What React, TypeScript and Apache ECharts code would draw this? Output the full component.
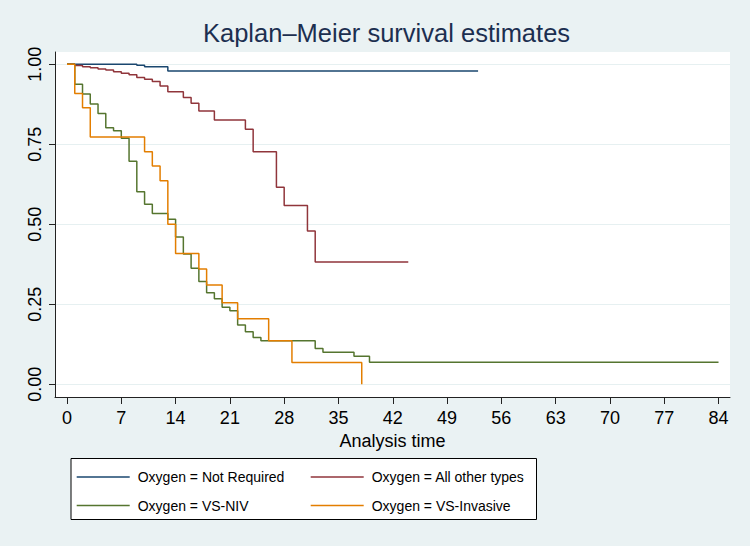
import React, { useEffect, useRef } from "react";
import * as echarts from "echarts";

// Kaplan–Meier survival estimates by oxygen requirement (time in days)
const notRequiredTime = [0, 9, 10, 13, 53];
const notRequiredSurv = [1, 0.997, 0.992, 0.979, 0.979];

const otherTypesTime = [0, 1, 2, 3, 4, 5, 6, 7, 8, 9, 10, 11, 12, 13, 15, 16, 17, 19, 23, 24, 27, 28, 31, 32, 44];
const otherTypesSurv = [1, 0.996, 0.992, 0.989, 0.985, 0.982, 0.977, 0.972, 0.967, 0.959, 0.953, 0.946, 0.932, 0.914, 0.896, 0.878, 0.854, 0.826, 0.797, 0.727, 0.616, 0.559, 0.479, 0.382, 0.382];

const nivTime = [0, 1, 2, 3, 4, 5, 6, 7, 8, 9, 10, 11, 13, 14, 15, 16, 17, 18, 19, 20, 21, 22, 23, 24, 25, 32, 33, 37, 39, 84];
const nivSurv = [1, 0.938, 0.907, 0.876, 0.846, 0.802, 0.792, 0.769, 0.697, 0.602, 0.563, 0.534, 0.516, 0.46, 0.407, 0.363, 0.321, 0.286, 0.267, 0.241, 0.23, 0.185, 0.164, 0.146, 0.136, 0.112, 0.1, 0.088, 0.069, 0.069];

const invasiveTime = [0, 1, 2, 3, 10, 11, 12, 13, 14, 17, 18, 20, 22, 26, 29, 38];
const invasiveSurv = [1, 0.909, 0.864, 0.773, 0.727, 0.682, 0.636, 0.5, 0.409, 0.36, 0.31, 0.255, 0.205, 0.136, 0.068, 0];

const groupNames = [
  "Oxygen = Not Required",
  "Oxygen = All other types",
  "Oxygen = VS-NIV",
  "Oxygen = VS-Invasive",
];
const groupColors = ["#1a476f", "#90353b", "#55752f", "#e37e00"];

const xTicks = [0, 7, 14, 21, 28, 35, 42, 49, 56, 63, 70, 77, 84];
const yTicks = [0, 0.25, 0.5, 0.75, 1];

const FONT = "'Liberation Sans', Arial, Helvetica, sans-serif";

const pairs = (t: number[], s: number[]) => t.map((v, i) => [v, s[i]]);

export default function App() {
  const ref = useRef<HTMLDivElement>(null);

  useEffect(() => {
    if (!ref.current) return;
    const chart = echarts.init(ref.current, undefined, { renderer: "svg" });

    const curves = [
      pairs(notRequiredTime, notRequiredSurv),
      pairs(otherTypesTime, otherTypesSurv),
      pairs(nivTime, nivSurv),
      pairs(invasiveTime, invasiveSurv),
    ];

    const legendPos = [
      { left: 76.7, top: 470 },
      { left: 310.7, top: 470 },
      { left: 76.7, top: 498.5 },
      { left: 310.7, top: 498.5 },
    ];

    chart.setOption({
      animation: false,
      backgroundColor: "#eaf2f3",
      textStyle: { fontFamily: FONT },
      title: {
        text: "Kaplan–Meier survival estimates",
        left: 203,
        top: 20,
        padding: 0,
        textStyle: { fontFamily: FONT, fontSize: 25.5, fontWeight: "normal", color: "#1c2f50" },
      },
      grid: {
        left: 55,
        right: 20,
        top: 52,
        bottom: 149,
        show: true,
        backgroundColor: "#ffffff",
        borderWidth: 0,
      },
      xAxis: {
        type: "value",
        min: -1.548,
        max: 85.48,
        name: "Analysis time",
        nameLocation: "middle",
        nameGap: 31,
        nameTextStyle: { fontFamily: FONT, fontSize: 18, color: "#000" },
        axisLine: { show: true, onZero: false, lineStyle: { color: "#222", width: 1 } },
        axisTick: { show: true, length: 7, customValues: xTicks, lineStyle: { color: "#222" } },
        axisLabel: { customValues: xTicks, fontSize: 18, color: "#000", margin: 12, fontFamily: FONT },
        splitLine: { show: false },
      },
      yAxis: {
        type: "value",
        min: -0.0397,
        max: 1.0384,
        axisLine: { show: true, onZero: false, lineStyle: { color: "#222", width: 1 } },
        axisTick: { show: true, length: 6, customValues: yTicks, lineStyle: { color: "#222" } },
        axisLabel: {
          customValues: yTicks,
          rotate: 90,
          fontSize: 18,
          color: "#000",
          margin: 11,
          fontFamily: FONT,
          formatter: (v: number) => v.toFixed(2),
        },
        splitLine: { show: true, lineStyle: { color: "#e6f0f1", width: 1 } },
      },
      legend: groupNames.map((name, i) => ({
        data: [name],
        left: legendPos[i].left,
        top: legendPos[i].top,
        padding: 0,
        icon: "rect",
        itemWidth: 53,
        itemHeight: 1.6,
        selectedMode: false,
        z: 5,
        textStyle: { fontFamily: FONT, fontSize: 14, color: "#000", padding: [0, 0, 0, 3] },
      })),
      graphic: [
        {
          type: "rect",
          z: 1,
          shape: { x: 71, y: 458.5, width: 465.5, height: 61 },
          style: { fill: "#ffffff", stroke: "#000", lineWidth: 1 },
        },
      ],
      series: curves.map((data, i) => ({
        name: groupNames[i],
        type: "line",
        step: "end",
        symbol: "none",
        data,
        color: groupColors[i],
        lineStyle: { color: groupColors[i], width: 1.5 },
      })),
    });

    return () => chart.dispose();
  }, []);

  return (
    <div
      ref={ref}
      style={{ position: "absolute", left: 0, top: 0, width: 750, height: 546 }}
    />
  );
}
